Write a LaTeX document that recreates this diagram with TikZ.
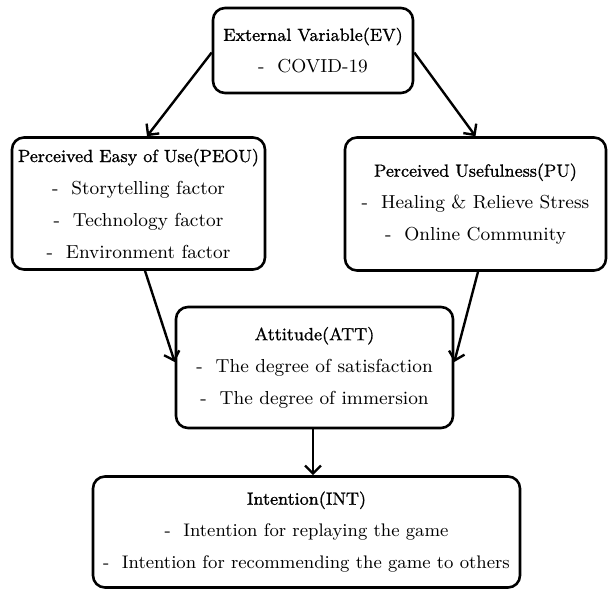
\documentclass[tikz,border=0pt]{standalone}
\usepackage{fontspec}
\usepackage{tikz}
\usetikzlibrary{arrows.meta,positioning,calc}
\newfontfamily\titlefont[FakeBold=1]{Latin Modern Roman}
\newcommand{\boxtitle}[1]{{\titlefont\fontsize{8.8}{16}\selectfont #1}}

\begin{document}
\begin{tikzpicture}[x=0.5pt,y=-0.5pt, >={Straight Barb[length=4pt,width=8pt]},
  box/.style={draw,line width=1.3pt,rounded corners=6pt,align=center,inner sep=1pt,
    font=\fontsize{9.4}{16}\selectfont},
  link/.style={->,line width=1.2pt}]
  \useasboundingbox (0,0) rectangle (611,590);
  % top
  \node[box,minimum width=100pt,minimum height=42.5pt] (ev) at (313,50.5)
    {\boxtitle{External Variable(EV)}\\-~~COVID-19};
  % middle row
  \node[box,minimum width=126.5pt,minimum height=66pt] (peou) at (138.5,203.5)
    {\boxtitle{Perceived Easy of Use(PEOU)}\\-~~Storytelling factor\\-~~Technology factor\\-~~Environment factor};
  \node[box,minimum width=130.5pt,minimum height=66.5pt] (pu) at (475.5,204)
    {\boxtitle{Perceived Usefulness(PU)}\\-~~Healing \& Relieve Stress\\-~~Online Community};
  \node[box,minimum width=138.5pt,minimum height=60.5pt] (att) at (314.5,367.5)
    {\boxtitle{Attitude(ATT)}\\-~~The degree of satisfaction\\-~~The degree of immersion};
  % bottom
  \node[box,minimum width=213.5pt,minimum height=55.5pt,font=\fontsize{9.1}{16}\selectfont] (int) at (306.5,532)
    {\boxtitle{Intention(INT)}\\-~~Intention for replaying the game\\-~~Intention for recommending the game to others};
  % arrows
  \coordinate (attdown) at ($(att.south)+(-1.5,0)$);
  \draw[link] ($(ev.west)+(0,2)$) -- ($(peou.north)+(8.5,0)$);
  \draw[link] ($(ev.east)+(0,2)$) -- (pu.north);
  \draw[link] ($(peou.south)+(6.5,0)$) -- ($(att.west)+(0,-5.5)$);
  \draw[link] ($(pu.south)+(2.5,0)$) -- ($(att.east)+(0,-5.5)$);
  \draw[link] (attdown) -- (attdown |- int.north);
\end{tikzpicture}
\end{document}
